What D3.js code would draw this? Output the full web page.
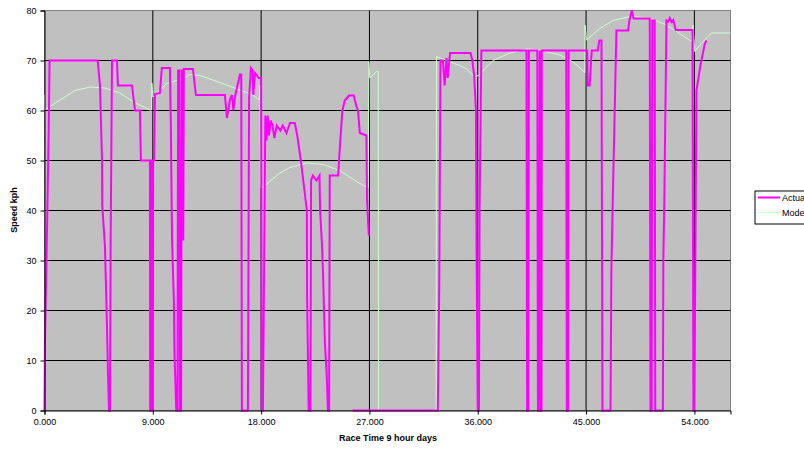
<!DOCTYPE html>
<html lang="en">
<head>
  <meta charset="UTF-8" />
  <title>Race speed: actual vs model</title>
  <script src="https://d3js.org/d3.v7.min.js"></script>
  <style>
    html, body { margin: 0; background: #fff; }
    svg { display: block; font-family: Arial, "Liberation Sans", sans-serif; }
    .tick text { font-size: 9px; fill: #000; }
    .axis-title { font-size: 9px; font-weight: bold; fill: #000; }
    .legend text { font-size: 9px; fill: #000; }
  </style>
</head>
<body>
  <svg id="chart" width="804" height="451"></svg>
  <script>
    const seriesNames = ['Actual', 'Model'];
    const xTicks = [0, 9, 18, 27, 36, 45, 54];
    const yTicks = [0, 10, 20, 30, 40, 50, 60, 70, 80];

    // [race time, speed]; null breaks the line
    const actualPoints = [
      [0.0, 0], [0.04, 14], [0.15, 28], [0.25, 42], [0.35, 56], [0.42, 70],
      [4.42, 70], [4.61, 65], [4.78, 50], [4.8, 41], [5.02, 33], [5.11, 25], [5.19, 17],
      [5.27, 8], [5.36, 0], [5.44, 0], [5.5, 35], [5.61, 70], [6.02, 70], [6.1, 65],
      [7.27, 65], [7.52, 60], [7.93, 60], [8.01, 50], [8.76, 50], [8.78, 0], [8.84, 0],
      [8.86, 50], [8.92, 50], [8.94, 0], [9.0, 0], [9.02, 50], [9.1, 50], [9.18, 63.3],
      [9.59, 63.5], [9.75, 68.5], [10.42, 68.5], [10.5, 57], [10.55, 45], [10.6, 34],
      [10.75, 22], [10.8, 11.5], [10.95, 0], [11.05, 0], [11.1, 68], [11.2, 68], [11.25, 0],
      [11.35, 0], [11.4, 68], [11.5, 68], [11.53, 34], [11.58, 68.3], [12.33, 68.3],
      [12.58, 63.1], [14.99, 63.1], [15.16, 58.5], [15.4, 62.1], [15.57, 63.1], [15.7, 60],
      [15.85, 63], [16.24, 67.2], [16.35, 67.2], [16.4, 0], [16.9, 0], [17.0, 62.7],
      [17.15, 68.5], [17.3, 68], [17.35, 63.1], [17.5, 67.5], [17.8, 66.5], [18.0, 66.5],
      [18.05, 0], [18.15, 0], [18.35, 59], [18.45, 54], [18.55, 59], [18.65, 55],
      [18.8, 58], [18.95, 57], [19.1, 54.5], [19.3, 57], [19.6, 56], [19.8, 57],
      [20.1, 55.5], [20.4, 57.5], [20.8, 57.5], [21.0, 55], [21.3, 50], [21.6, 44],
      [21.8, 40], [21.82, 23], [21.95, 0], [22.1, 0], [22.15, 46], [22.3, 47], [22.6, 46],
      [22.85, 47], [22.9, 40], [23.05, 33.5], [23.15, 27], [23.3, 13.5], [23.45, 7],
      [23.55, 0], [23.65, 0], [23.7, 47], [24.4, 47], [24.55, 53], [24.75, 60], [24.95, 62],
      [25.3, 63], [25.7, 63], [25.9, 61], [26.05, 60], [26.2, 55.5], [26.75, 55],
      [26.8, 42], [26.95, 35],
      null,
      [25.6, 0], [32.68, 0], [32.8, 25], [32.9, 70], [33.1, 70], [33.25, 65], [33.4, 70.5],
      [33.5, 66.5], [33.7, 71.5], [35.4, 71.5], [35.55, 70], [35.7, 67], [35.85, 60],
      [35.9, 32], [36.0, 0], [36.1, 0], [36.15, 40], [36.3, 72], [40.05, 72], [40.1, 0],
      [40.2, 0], [40.25, 72], [40.95, 72], [41.0, 0], [41.1, 0], [41.15, 72], [41.2, 0],
      [41.3, 0], [41.32, 72], [43.35, 72], [43.4, 0], [43.5, 0], [43.55, 72], [45.1, 72],
      [45.14, 65], [45.3, 65], [45.47, 72], [45.97, 72], [46.1, 74], [46.28, 74],
      [46.36, 0], [47.03, 0], [47.1, 28], [47.2, 40], [47.52, 76], [48.49, 76], [48.6, 78],
      [48.8, 80], [48.95, 78.4], [50.29, 78.4], [50.35, 0], [50.45, 0], [50.5, 78],
      [50.7, 78], [50.75, 0], [51.38, 0], [51.42, 30], [51.5, 42], [51.68, 78],
      [51.8, 77.8], [51.95, 78.5], [52.1, 77.7], [52.25, 78.1], [52.45, 76.1],
      [53.84, 76.1], [53.92, 0], [54.0, 0], [54.17, 64], [54.5, 69], [54.86, 73.3], [55.0, 74]
    ];

    const modelPoints = [
      [0.0, 63.1], [0.02, 60.1], [1.29, 62.1], [2.53, 64.0], [3.78, 64.7], [5.02, 64.5],
      [6.27, 63.5], [7.35, 61.8], [8.76, 60.1], [8.9, 60.1], [8.92, 65.5], [9.0, 62.7],
      [10.15, 65.4], [11.53, 66.4], [12.08, 67.2], [12.92, 67.0], [14.58, 65.6],
      [16.24, 64.1], [17.32, 63.1], [17.84, 62.1], [17.9, 65], [17.95, 44.5],
      [18.06, 44.5], [19.56, 47.5], [20.39, 48.6], [21.78, 49.5], [23.16, 49.2],
      [24.54, 48.0], [25.93, 45.8], [26.9, 44.5], [26.95, 69.8], [27.03, 66.5],
      [27.6, 67.8], [27.73, 67.8], [27.75, 0], [32.54, 0], [32.57, 70.8], [33.82, 69.6],
      [34.51, 69.0], [35.07, 68.3], [35.75, 66.7], [36.03, 67.0], [37.28, 70.0],
      [38.66, 71.5], [40.05, 72.3], [41.15, 72.1], [42.81, 71.1], [43.92, 69.7],
      [44.75, 68.0], [44.89, 67.5], [44.91, 77.1], [45.03, 74.1], [46.14, 76.4],
      [47.24, 78.0], [48.63, 78.8], [50.29, 78.5], [51.68, 77.1], [52.78, 75.4],
      [53.75, 73.8], [53.89, 77.1], [54.03, 71.8], [54.58, 73.4], [55.13, 74.8],
      [55.42, 75.5], [57.0, 75.5]
    ];

    const colors = { Actual: '#ff00ff', Model: '#ccffcc' };

    const svg = d3.select('#chart');
    const x = d3.scaleLinear().domain([0, 57]).range([44.5, 730.5]);
    const y = d3.scaleLinear().domain([0, 80]).range([410.5, 10.5]);

    // plot area
    svg.append('rect')
      .attr('x', x(0)).attr('y', y(80))
      .attr('width', x(57) - x(0)).attr('height', y(0) - y(80))
      .attr('fill', '#c0c0c0')
      .attr('stroke', '#808080');

    // grid
    svg.append('g').selectAll('line')
      .data(yTicks.filter(d => d > 0 && d < 80))
      .join('line')
      .attr('x1', x(0)).attr('x2', x(57))
      .attr('y1', d => y(d)).attr('y2', d => y(d))
      .attr('stroke', '#000');
    svg.append('g').selectAll('line')
      .data(xTicks.filter(d => d > 0))
      .join('line')
      .attr('y1', y(0)).attr('y2', y(80))
      .attr('x1', d => x(d)).attr('x2', d => x(d))
      .attr('stroke', '#000');

    const line = d3.line()
      .defined(d => d !== null)
      .x(d => x(d[0]))
      .y(d => y(d[1]));

    svg.append('path')
      .datum(modelPoints)
      .attr('d', line)
      .attr('fill', 'none')
      .attr('stroke', colors.Model)
      .attr('stroke-width', 1);

    svg.append('path')
      .datum(actualPoints)
      .attr('d', line)
      .attr('fill', 'none')
      .attr('stroke', colors.Actual)
      .attr('stroke-width', 2)
      .attr('stroke-linejoin', 'miter');

    // axes
    svg.append('g')
      .attr('transform', `translate(0,${y(0)})`)
      .call(d3.axisBottom(x).tickValues(xTicks).tickFormat(d3.format('.3f')).tickSize(4).tickPadding(4))
      .call(g => g.select('.domain').attr('stroke', '#000'));
    svg.append('g')
      .attr('transform', `translate(${x(0)},0)`)
      .call(d3.axisLeft(y).tickValues(yTicks).tickSize(4).tickPadding(4))
      .call(g => g.select('.domain').attr('stroke', '#000'));
    svg.selectAll('.tick text').attr('font-family', 'Arial, "Liberation Sans", sans-serif');

    svg.append('text')
      .attr('class', 'axis-title')
      .attr('x', 388).attr('y', 441)
      .attr('text-anchor', 'middle')
      .text('Race Time 9 hour days');
    svg.append('text')
      .attr('class', 'axis-title')
      .attr('transform', 'translate(17,210) rotate(-90)')
      .attr('text-anchor', 'middle')
      .text('Speed kph');

    // legend (runs off the right edge, as in the original)
    const legend = svg.append('g').attr('class', 'legend').attr('transform', 'translate(755,191)');
    legend.append('rect')
      .attr('width', 80).attr('height', 33)
      .attr('fill', '#fff').attr('stroke', '#000');
    seriesNames.forEach((name, i) => {
      const row = legend.append('g').attr('transform', `translate(0,${6.5 + i * 15})`);
      row.append('line')
        .attr('x1', 3).attr('x2', 25)
        .attr('stroke', colors[name])
        .attr('stroke-width', name === 'Actual' ? 2 : 1);
      row.append('text')
        .attr('x', 27).attr('y', 3.5)
        .text(name);
    });
  </script>
</body>
</html>
